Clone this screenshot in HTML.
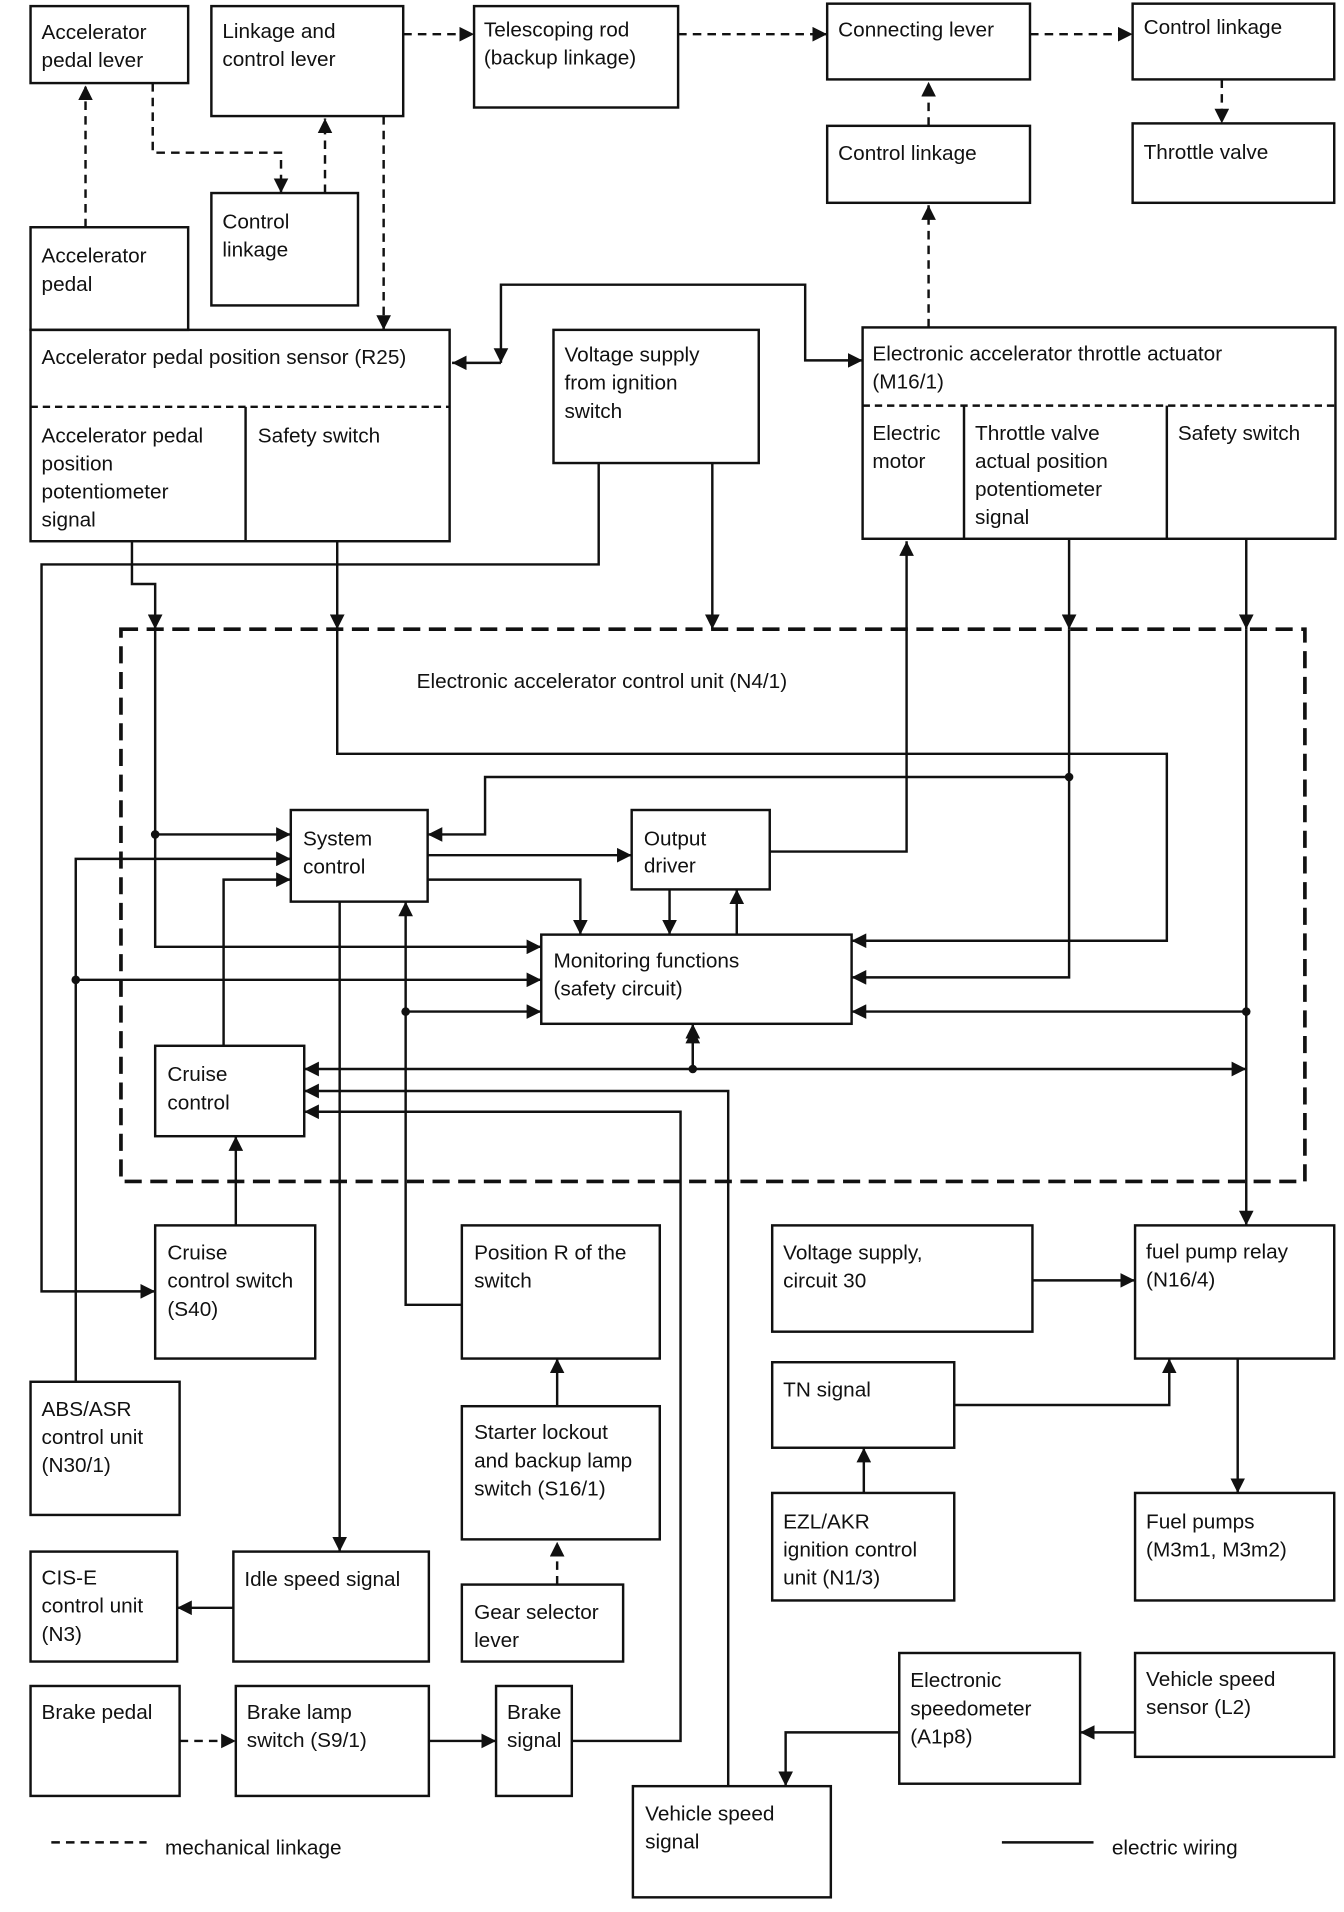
<!DOCTYPE html>
<html><head><meta charset="utf-8"><style>
html,body{margin:0;padding:0;background:#fff}
svg{display:block}
text{font-family:"Liberation Sans",Arial,sans-serif;font-size:17px;fill:#111}
</style></head><body>
<svg width="1344" height="1912" viewBox="0 0 1100 1565" preserveAspectRatio="none" xmlns="http://www.w3.org/2000/svg">
<defs>
<marker id="a" viewBox="0 0 10 10" refX="10" refY="5" markerWidth="5.5" markerHeight="5.5" orient="auto" markerUnits="userSpaceOnUse"><path d="M0,0L10,5L0,10z" fill="#111"/></marker>
<marker id="b" viewBox="0 0 10 10" refX="10" refY="5" markerWidth="12" markerHeight="12" orient="auto" markerUnits="userSpaceOnUse"><path d="M0,0L10,5L0,10z" fill="#111"/></marker>
<marker id="s" viewBox="0 0 10 10" refX="0" refY="5" markerWidth="12" markerHeight="12" orient="auto" markerUnits="userSpaceOnUse"><path d="M10,0L0,5L10,10z" fill="#111"/></marker>
</defs>
<g fill="none" stroke="#111" stroke-width="2">
<rect x="25" y="5" width="129" height="63"/>
<rect x="173" y="5" width="157" height="90"/>
<rect x="388" y="5" width="167" height="83"/>
<rect x="677" y="3" width="166" height="62"/>
<rect x="927" y="3" width="165" height="62"/>
<rect x="677" y="103" width="166" height="63"/>
<rect x="927" y="101" width="165" height="65"/>
<rect x="173" y="158" width="120" height="92"/>
<rect x="25" y="186" width="129" height="84"/>
<rect x="25" y="270" width="343" height="173"/>
<line x1="25" y1="333" x2="368" y2="333" stroke-dasharray="6,4"/>
<line x1="201" y1="333" x2="201" y2="443"/>
<rect x="453" y="270" width="168" height="109"/>
<rect x="706" y="268" width="387" height="173"/>
<line x1="706" y1="332" x2="1093" y2="332" stroke-dasharray="6,4"/>
<line x1="789" y1="332" x2="789" y2="441"/>
<line x1="955" y1="332" x2="955" y2="441"/>
<rect x="99" y="515" width="969" height="452" stroke-width="3" stroke-dasharray="14,7"/>
<rect x="238" y="663" width="112" height="75"/>
<rect x="517" y="663" width="113" height="65"/>
<rect x="443" y="765" width="254" height="73"/>
<rect x="127" y="856" width="122" height="74"/>
<rect x="127" y="1003" width="131" height="109"/>
<rect x="378" y="1003" width="162" height="109"/>
<rect x="632" y="1003" width="213" height="87"/>
<rect x="929" y="1003" width="163" height="109"/>
<rect x="25" y="1131" width="122" height="109"/>
<rect x="378" y="1151" width="162" height="109"/>
<rect x="632" y="1115" width="149" height="70"/>
<rect x="191" y="1270" width="160" height="90"/>
<rect x="25" y="1270" width="120" height="90"/>
<rect x="378" y="1297" width="132" height="63"/>
<rect x="632" y="1222" width="149" height="88"/>
<rect x="929" y="1222" width="163" height="88"/>
<rect x="25" y="1380" width="122" height="90"/>
<rect x="193" y="1380" width="158" height="90"/>
<rect x="406" y="1380" width="62" height="90"/>
<rect x="736" y="1353" width="148" height="107"/>
<rect x="929" y="1353" width="163" height="85"/>
<rect x="518" y="1462" width="162" height="91"/>
</g>
<!-- dashed mechanical -->
<g fill="none" stroke="#111" stroke-width="2" stroke-dasharray="7,5">
<path d="M70,186V70" marker-end="url(#b)"/>
<path d="M125,68V125H230V158" marker-end="url(#b)"/>
<path d="M266,158V97" marker-end="url(#b)"/>
<path d="M314,95V270" marker-end="url(#b)"/>
<path d="M330,28H388" marker-end="url(#b)"/>
<path d="M555,28H677" marker-end="url(#b)"/>
<path d="M843,28H927" marker-end="url(#b)"/>
<path d="M1000,65V101" marker-end="url(#b)"/>
<path d="M760,103V67" marker-end="url(#b)"/>
<path d="M760,268V168" marker-end="url(#b)"/>
<path d="M456,1297V1262" marker-end="url(#b)"/>
<path d="M147,1425H193" marker-end="url(#b)"/>
<path d="M42,1508H120"/>
</g>
<!-- solid wiring -->
<g fill="none" stroke="#111" stroke-width="2">
<path d="M410,297V233H659V295H706" marker-end="url(#b)" marker-start="url(#s)"/>
<path d="M410,297H370" marker-end="url(#b)"/>
<path d="M583,379V515" marker-end="url(#b)"/>
<path d="M108,443V478H127V515" marker-end="url(#b)"/>
<path d="M127,515V775H443" marker-end="url(#b)"/>
<path d="M127,683H238" marker-end="url(#b)"/>
<path d="M276,443V515" marker-end="url(#b)"/>
<path d="M276,515V617H955V770H697" marker-end="url(#b)"/>
<path d="M875,441V515" marker-end="url(#b)"/>
<path d="M875,515V800H697" marker-end="url(#b)"/>
<path d="M875,636H397V683H350" marker-end="url(#b)"/>
<path d="M630,697H742V443" marker-end="url(#b)"/>
<path d="M1020,441V515" marker-end="url(#b)"/>
<path d="M1020,515V1003" marker-end="url(#b)"/>
<path d="M1020,828H697" marker-end="url(#b)"/>
<path d="M249,875H1020" marker-end="url(#b)" marker-start="url(#s)"/>
<path d="M567,838V875" marker-start="url(#s)"/>
<path d="M567,875V842" marker-end="url(#b)"/>
<path d="M490,379V462H34V1057H127" marker-end="url(#b)"/>
<path d="M62,1131V703H238" marker-end="url(#b)"/>
<path d="M62,802H443" marker-end="url(#b)"/>
<path d="M350,700H517" marker-end="url(#b)"/>
<path d="M350,720H475V765" marker-end="url(#b)"/>
<path d="M548,728V765" marker-end="url(#b)"/>
<path d="M603,765V728" marker-end="url(#b)"/>
<path d="M278,738V1270" marker-end="url(#b)"/>
<path d="M183,856V720H238" marker-end="url(#b)"/>
<path d="M193,1003V930" marker-end="url(#b)"/>
<path d="M378,1068H332V738" marker-end="url(#b)"/>
<path d="M332,828H443" marker-end="url(#b)"/>
<path d="M456,1151V1112" marker-end="url(#b)"/>
<path d="M191,1316H145" marker-end="url(#b)"/>
<path d="M351,1425H406" marker-end="url(#b)"/>
<path d="M468,1425H557V910H249" marker-end="url(#b)"/>
<path d="M596,1462V893H249" marker-end="url(#b)"/>
<path d="M736,1418H643V1462" marker-end="url(#b)"/>
<path d="M929,1418H884" marker-end="url(#b)"/>
<path d="M845,1048H929" marker-end="url(#b)"/>
<path d="M781,1150H957V1112" marker-end="url(#b)"/>
<path d="M707,1222V1185" marker-end="url(#b)"/>
<path d="M1013,1112V1222" marker-end="url(#b)"/>
<path d="M820,1508H895"/>
</g>
<g fill="#111">
<circle cx="127" cy="683" r="3.5"/><circle cx="875" cy="636" r="3.5"/><circle cx="1020" cy="828" r="3.5"/>
<circle cx="567" cy="875" r="3.5"/><circle cx="62" cy="802" r="3.5"/><circle cx="332" cy="828" r="3.5"/>
</g>
<g>
<text x="34" y="32">Accelerator</text><text x="34" y="55">pedal lever</text>
<text x="182" y="31">Linkage and</text><text x="182" y="54">control lever</text>
<text x="396" y="30">Telescoping rod</text><text x="396" y="53">(backup linkage)</text>
<text x="686" y="30">Connecting lever</text>
<text x="936" y="28">Control linkage</text>
<text x="686" y="131">Control linkage</text>
<text x="936" y="130">Throttle valve</text>
<text x="182" y="187">Control</text><text x="182" y="210">linkage</text>
<text x="34" y="215">Accelerator</text><text x="34" y="238">pedal</text>
<text x="34" y="298">Accelerator pedal position sensor (R25)</text>
<text x="34" y="362">Accelerator pedal</text><text x="34" y="385">position</text><text x="34" y="408">potentiometer</text><text x="34" y="431">signal</text>
<text x="211" y="362">Safety switch</text>
<text x="462" y="296">Voltage supply</text><text x="462" y="319">from ignition</text><text x="462" y="342">switch</text>
<text x="714" y="295">Electronic accelerator throttle actuator</text><text x="714" y="318">(M16/1)</text>
<text x="714" y="360">Electric</text><text x="714" y="383">motor</text>
<text x="798" y="360">Throttle valve</text><text x="798" y="383">actual position</text><text x="798" y="406">potentiometer</text><text x="798" y="429">signal</text>
<text x="964" y="360">Safety switch</text>
<text x="341" y="563">Electronic accelerator control unit (N4/1)</text>
<text x="248" y="692">System</text><text x="248" y="715">control</text>
<text x="527" y="692">Output</text><text x="527" y="714">driver</text>
<text x="453" y="792">Monitoring functions</text><text x="453" y="815">(safety circuit)</text>
<text x="137" y="885">Cruise</text><text x="137" y="908">control</text>
<text x="137" y="1031">Cruise</text><text x="137" y="1054">control switch</text><text x="137" y="1077">(S40)</text>
<text x="388" y="1031">Position R of the</text><text x="388" y="1054">switch</text>
<text x="641" y="1031">Voltage supply,</text><text x="641" y="1054">circuit 30</text>
<text x="938" y="1030">fuel pump relay</text><text x="938" y="1053">(N16/4)</text>
<text x="34" y="1159">ABS/ASR</text><text x="34" y="1182">control unit</text><text x="34" y="1205">(N30/1)</text>
<text x="388" y="1178">Starter lockout</text><text x="388" y="1201">and backup lamp</text><text x="388" y="1224">switch (S16/1)</text>
<text x="641" y="1143">TN signal</text>
<text x="200" y="1298">Idle speed signal</text>
<text x="34" y="1297">CIS-E</text><text x="34" y="1320">control unit</text><text x="34" y="1343">(N3)</text>
<text x="388" y="1325">Gear selector</text><text x="388" y="1348">lever</text>
<text x="641" y="1251">EZL/AKR</text><text x="641" y="1274">ignition control</text><text x="641" y="1297">unit (N1/3)</text>
<text x="938" y="1251">Fuel pumps</text><text x="938" y="1274">(M3m1, M3m2)</text>
<text x="34" y="1407">Brake pedal</text>
<text x="202" y="1407">Brake lamp</text><text x="202" y="1430">switch (S9/1)</text>
<text x="415" y="1407">Brake</text><text x="415" y="1430">signal</text>
<text x="745" y="1381">Electronic</text><text x="745" y="1404">speedometer</text><text x="745" y="1427">(A1p8)</text>
<text x="938" y="1380">Vehicle speed</text><text x="938" y="1403">sensor (L2)</text>
<text x="528" y="1490">Vehicle speed</text><text x="528" y="1513">signal</text>
<text x="135" y="1518">mechanical linkage</text>
<text x="910" y="1518">electric wiring</text>
</g>
</svg>
</body></html>
